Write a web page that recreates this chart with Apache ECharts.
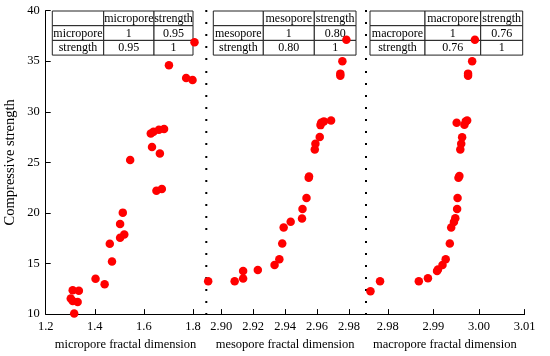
<!DOCTYPE html>
<html>
<head>
<meta charset="utf-8">
<script src="https://cdn.jsdelivr.net/npm/echarts@6/dist/echarts.min.js"></script>
<style>html,body{margin:0;padding:0;background:#fff}#c{width:550px;height:356px}</style>
</head>
<body>
<div id="c"></div>
<script>
// ---- data ----
var microX = [1.310,1.335,1.302,1.310,1.330,1.316,1.403,1.440,1.470,1.461,1.503,1.520,1.503,1.514,1.544,1.628,1.639,1.661,1.682,1.633,1.665,1.651,1.673,1.702,1.772,1.798,1.806];
var microY = [12.36,12.3,11.54,11.3,11.2,10.07,13.5,12.95,15.2,16.95,17.54,17.87,18.9,20.03,25.24,27.84,28.03,28.23,28.29,26.52,25.87,22.19,22.36,34.6,33.34,33.15,36.88];
var mesoX = [2.8918,2.9084,2.9137,2.9137,2.9229,2.9334,2.9364,2.9382,2.9391,2.9435,2.9506,2.9509,2.9534,2.9548,2.9550,2.9586,2.9590,2.9617,2.9622,2.9626,2.9643,2.9688,2.9759,2.9746,2.9746,2.9784];
var mesoY = [13.24,13.24,13.51,14.27,14.37,14.86,15.41,16.98,18.56,19.12,19.44,20.39,21.47,23.47,23.6,26.26,26.85,27.5,28.68,28.92,29.05,29.14,35.0,33.77,33.57,37.11];
var macroX = [2.9762,2.9783,2.9868,2.9888,2.9908,2.9910,2.9920,2.9927,2.9936,2.9939,2.9945,2.9948,2.9952,2.9953,2.9955,2.9957,2.9959,2.9961,2.9963,2.9951,2.9968,2.9971,2.9974,2.9985,2.9976,2.9976,2.9991];
var macroY = [12.26,13.24,13.24,13.54,14.27,14.4,14.86,15.41,16.98,18.55,19.11,19.48,20.39,21.47,23.47,23.64,26.26,26.85,27.47,28.92,28.72,29.05,29.14,35.0,33.77,33.57,37.11];

var poreNames = ['micropore','mesopore','macropore'];
var xAxisNames = ['micropore fractal dimension','mesopore fractal dimension','macropore fractal dimension'];
var correlations = [0.95, 0.80, 0.76];
var xTicks = [[1.2,1.4,1.6,1.8],[2.90,2.92,2.94,2.96,2.98],[2.98,2.99,3.00,3.01]];
var xRanges = [[1.2,1.85],[2.89,2.99],[2.975,3.01]];
var xDecimals = [1,2,2];
var yName = 'Compressive strength';

// ---- layout ----
var FONT = "'Times New Roman','Liberation Serif',serif";
var gLeft = [45.7, 205.3, 365];
var gW = 159.6, gTop = 10.6, gH = 305.1;

function zip(a,b){return a.map(function(v,i){return [v,b[i]];});}
var seriesData = [zip(microX,microY), zip(mesoX,mesoY), zip(macroX,macroY)];

var grids=[], xAxes=[], yAxes=[], series=[];
for (var i=0;i<3;i++){
  grids.push({left:gLeft[i], top:gTop, width:gW, height:gH});
  (function(i){
  xAxes.push({
    type:'value', gridIndex:i, min:xRanges[i][0], max:xRanges[i][1],
    name:xAxisNames[i], nameLocation:'middle', nameGap:21,
    nameTextStyle:{fontFamily:FONT, fontSize:12.5, color:'#000'},
    axisLine:{show:true, onZero:false, lineStyle:{color:'#000', width:1}},
    axisTick:{show:true, inside:true, length:5, lineStyle:{color:'#000'}, customValues:xTicks[i]},
    axisLabel:{fontFamily:FONT, fontSize:12.5, color:'#000', margin:6, customValues:xTicks[i],
      formatter:function(v){return Number(v).toFixed(xDecimals[i]);}},
    splitLine:{show:false}
  });
  })(i);
  var ya = {type:'value', gridIndex:i, min:10, max:40, splitLine:{show:false}};
  if (i===0){
    ya.interval = 5;
    ya.name = yName; ya.nameLocation='middle'; ya.nameGap=28;
    ya.nameTextStyle={fontFamily:FONT, fontSize:14.5, color:'#000'};
    ya.axisLine={show:true, onZero:false, lineStyle:{color:'#000', width:1}};
    ya.axisTick={show:true, inside:true, length:5, lineStyle:{color:'#000'}};
    ya.axisLabel={fontFamily:FONT, fontSize:12.5, color:'#000', margin:6};
  } else {
    // dotted separator drawn as tiny square ticks
    ya.interval = 1.2;
    ya.axisLine={show:false, onZero:false};
    ya.axisTick={show:true, inside:true, length:2, lineStyle:{color:'#000', width:2}};
    ya.axisLabel={show:false};
  }
  yAxes.push(ya);
  series.push({type:'scatter', xAxisIndex:i, yAxisIndex:i, data:seriesData[i], z:200,
    symbolSize:8.5, itemStyle:{color:'#ff0000', opacity:1}, silent:true});
}

// tables
var tableLeft = [52.3, 213.3, 370];
var colW = [[51.4,50.3,39],[50,51,41.7],[55,55.7,42]];
var rowH = 14.7, tTop = 11;
var graphics = [];
for (var t=0;t<3;t++){
  var cells = [
    ['', poreNames[t], 'strength'],
    [poreNames[t], '1', correlations[t].toFixed(2)],
    ['strength', correlations[t].toFixed(2), '1']
  ];
  var y = tTop;
  for (var r=0;r<3;r++){
    var x = tableLeft[t];
    for (var c=0;c<3;c++){
      graphics.push({type:'rect', shape:{x:x, y:y, width:colW[t][c], height:rowH},
        style:{fill:'#fff', stroke:'#222', lineWidth:1}, z:100});
      graphics.push({type:'text', x:x+colW[t][c]/2, y:y+rowH/2+0.5, z:101,
        style:{text:cells[r][c], fontFamily:FONT, fontSize:12, fill:'#000', align:'center', verticalAlign:'middle'}});
      x += colW[t][c];
    }
    y += rowH;
  }
}

var chart = echarts.init(document.getElementById('c'), null, {renderer:'canvas'});
chart.setOption({
  animation:false, backgroundColor:'#fff',
  grid:grids, xAxis:xAxes, yAxis:yAxes, series:series, graphic:graphics
});
</script>
</body>
</html>
